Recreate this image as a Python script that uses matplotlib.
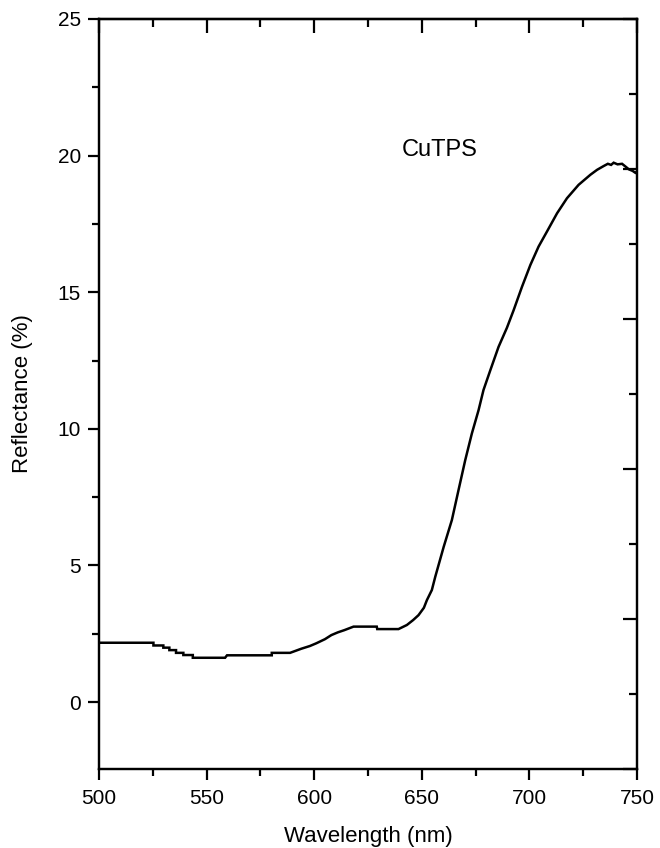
import matplotlib
matplotlib.use("Agg")
import matplotlib.pyplot as plt
from matplotlib.ticker import MultipleLocator, NullFormatter

plt.rcParams['font.family'] = ['Liberation Sans', 'DejaVu Sans']

# Reflectance spectrum of CuTPS
wavelength = [500, 525.3, 525.3, 529.9, 529.9, 532.7, 532.7, 535.8, 535.8, 539.2, 539.2,
              543.6, 543.6, 558.6, 559.5, 580.3, 580.3, 588.8, 594, 598, 601, 605, 608,
              611, 614, 618.3, 629.1, 629.3, 639.2, 643.1, 646, 648.5, 651, 652.4,
              654.7, 656.3, 660.2, 664.0, 667.1, 670.2, 673.3, 676.4, 678.7, 681.9,
              685.7, 689.6, 692.7, 696.6, 700.5, 704.3, 708.2, 712.9, 717.5, 722.9,
              728.4, 731.5, 734.6, 736.5, 738, 739.2, 741, 743.1, 745, 746.2, 748,
              749.3, 750]
reflectance = [2.17, 2.17, 2.07, 2.07, 1.99, 1.99, 1.90, 1.90, 1.80, 1.80, 1.72,
               1.72, 1.62, 1.62, 1.71, 1.71, 1.80, 1.80, 1.95, 2.05, 2.15, 2.30, 2.45,
               2.55, 2.63, 2.76, 2.76, 2.67, 2.67, 2.82, 3.00, 3.18, 3.45, 3.73,
               4.10, 4.59, 5.68, 6.66, 7.76, 8.85, 9.83, 10.68, 11.42, 12.15,
               13.00, 13.70, 14.34, 15.20, 16.00, 16.67, 17.22, 17.89, 18.44, 18.93,
               19.30, 19.48, 19.62, 19.70, 19.66, 19.74, 19.68, 19.70, 19.58, 19.50, 19.44,
               19.37, 19.42]

x_ticks = [500, 550, 600, 650, 700, 750]
y_ticks = [0, 5, 10, 15, 20, 25]
sample_label = "CuTPS"

fig = plt.figure(figsize=(6.6, 8.48), dpi=100)
ax = fig.add_axes([0.15, 0.0932, 0.815, 0.8844])

ax.plot(wavelength, reflectance, color='black', linewidth=1.8, solid_joinstyle='miter')

ax.set_xlim(500, 750)
ax.set_ylim(-2.45, 25)
ax.set_xticks(x_ticks)
ax.set_yticks(y_ticks)
ax.xaxis.set_minor_locator(MultipleLocator(25))
ax.yaxis.set_minor_locator(MultipleLocator(2.5))

for s in ax.spines.values():
    s.set_linewidth(1.6)

ax.tick_params(axis='x', which='both', direction='out', top=False, bottom=True,
               labelsize=15, pad=6.5, width=1.6)
ax.tick_params(axis='y', which='both', direction='out', left=True, right=False,
               labelsize=15, pad=5, width=1.6)
ax.tick_params(which='major', length=8)
ax.tick_params(which='minor', length=5)

# inward ticks along the top edge
axt = ax.secondary_xaxis('top')
axt.set_xticks(x_ticks)
axt.xaxis.set_minor_locator(MultipleLocator(25))
axt.tick_params(which='both', direction='in', labeltop=False, width=1.6)
axt.tick_params(which='major', length=10)
axt.tick_params(which='minor', length=6)
axt.spines['top'].set_linewidth(1.6)
axt.xaxis.set_major_formatter(NullFormatter())

# inward ticks along the right edge
axr = ax.twinx()
axr.set_ylim(0, 10)
axr.yaxis.set_major_locator(MultipleLocator(2))
axr.yaxis.set_minor_locator(MultipleLocator(1))
axr.yaxis.set_major_formatter(NullFormatter())
axr.tick_params(which='both', direction='in', width=1.6)
axr.tick_params(which='major', length=10)
axr.tick_params(which='minor', length=6)
for s in axr.spines.values():
    s.set_linewidth(1.6)

ax.set_xlabel("Wavelength (nm)", fontsize=16, labelpad=13)
ax.set_ylabel("Reflectance (%)", fontsize=16, labelpad=18)
ax.text(658.5, 20.0, sample_label, fontsize=17, ha='center', va='baseline')

fig.savefig("out.png", dpi=100, facecolor='white')
